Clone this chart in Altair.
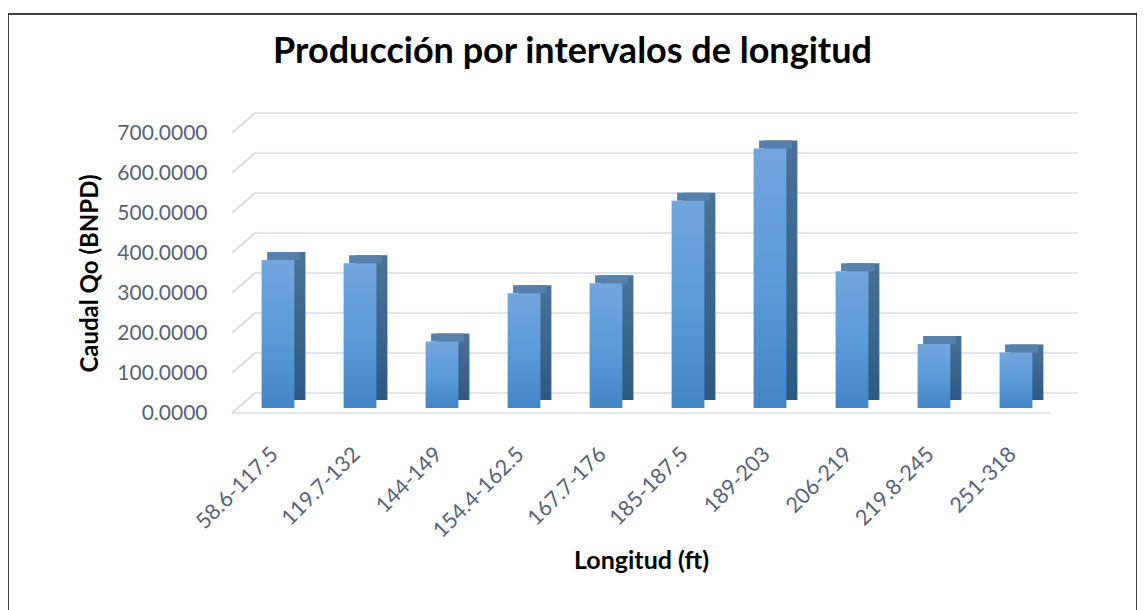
import altair as alt
import pandas as pd

categories = ["58.6-117.5", "119.7-132", "144-149", "154.4-162.5", "167.7-176",
              "185-187.5", "189-203", "206-219", "219.8-245", "251-318"]
caudal = [370, 362, 166, 287, 312, 518, 649, 342, 160, 139]
ticks = [0, 100, 200, 300, 400, 500, 600, 700]

df = pd.DataFrame({"Longitud": categories, "Caudal": caudal})
grid_df = pd.DataFrame({"v": ticks})

FONT = "Lato"
xscale = alt.Scale(domain=categories, range=[224, 1042], paddingInner=0.6,
                   paddingOuter=0.288, align=0.627)
yscale = alt.Scale(domain=[0, 700], range=[399, 119], nice=False)

x_axis = alt.Axis(title="Longitud (ft)", labelAngle=-45, labelAlign="right",
                  labelBaseline="middle", labelPadding=38, labelOffset=-3,
                  labelFont=FONT, labelFontSize=21.5, labelColor="#56627A",
                  ticks=False, domain=False, grid=False, offset=-207,
                  titleFont=FONT, titleFontSize=25, titleFontWeight="bold",
                  titleColor="#000000", titleY=147, titleBaseline="middle")
y_axis = alt.Axis(title="Caudal Qo (BNPD)", format=".4f", values=ticks,
                  labelFont=FONT, labelFontSize=21, labelColor="#56627A",
                  labelPadding=0, ticks=False, domain=False, grid=False,
                  offset=-199, titleFont=FONT, titleFontSize=24,
                  titleFontWeight="bold", titleColor="#000000", titlePadding=14)

X = alt.X("Longitud:N", scale=xscale, axis=x_axis, sort=categories)
Y = alt.Y("Caudal:Q", scale=yscale, axis=y_axis)
YV = alt.Y("v:Q", scale=yscale, axis=y_axis)

base = alt.Chart(df)

side_grad = alt.Gradient(gradient="linear", x1=0, x2=0, y1=0, y2=1,
                         stops=[alt.GradientStop(color="#4A7299", offset=0),
                                alt.GradientStop(color="#2D5982", offset=1)])
front_grad = alt.Gradient(gradient="linear", x1=0, x2=0, y1=0, y2=1,
                          stops=[alt.GradientStop(color="#72A6DD", offset=0),
                                 alt.GradientStop(color="#5B9BD8", offset=0.5),
                                 alt.GradientStop(color="#4385C5", offset=1)])

side = base.mark_bar(xOffset=11, yOffset=-13, y2Offset=-13, color=side_grad).encode(
    x=X, y=Y, y2=alt.datum(0),
)
top = base.mark_bar(xOffset=5.5, yOffset=-13, y2Offset=-5, color="#5880AC").encode(
    x=X, y=Y, y2=alt.Y2("Caudal:Q"),
)
front = base.mark_bar(yOffset=-5, y2Offset=-5, color=front_grad).encode(
    x=X, y=Y, y2=alt.datum(0),
)

gridc = "#D9DDE6"
back_grid = alt.Chart(grid_df).mark_rule(color=gridc, strokeWidth=1.7, yOffset=-20).encode(
    y=YV, x=alt.value(247), x2=alt.value(1070),
)
wall = alt.Chart(grid_df).mark_rule(color=gridc, strokeWidth=1.7, y2Offset=-20).encode(
    y=YV, y2=alt.Y2("v:Q"), x=alt.value(224), x2=alt.value(247),
)
floor = alt.Chart(pd.DataFrame({"v": [0]})).mark_rule(color=gridc, strokeWidth=1.7).encode(
    y=YV, x=alt.value(224), x2=alt.value(1042),
)

chart = alt.layer(back_grid, wall, floor, side, top, front).properties(
    width=1129, height=606,
    padding={"left": 0, "top": 6, "right": 0, "bottom": 0},
    title=alt.Title("Producción por intervalos de longitud", font=FONT,
                    fontSize=36, fontWeight="bold", color="#000000",
                    anchor="middle", offset=-57),
).configure_view(stroke="#000000", strokeWidth=1.5)

chart.save("out.html", embed_options={"renderer": "svg", "actions": False})
